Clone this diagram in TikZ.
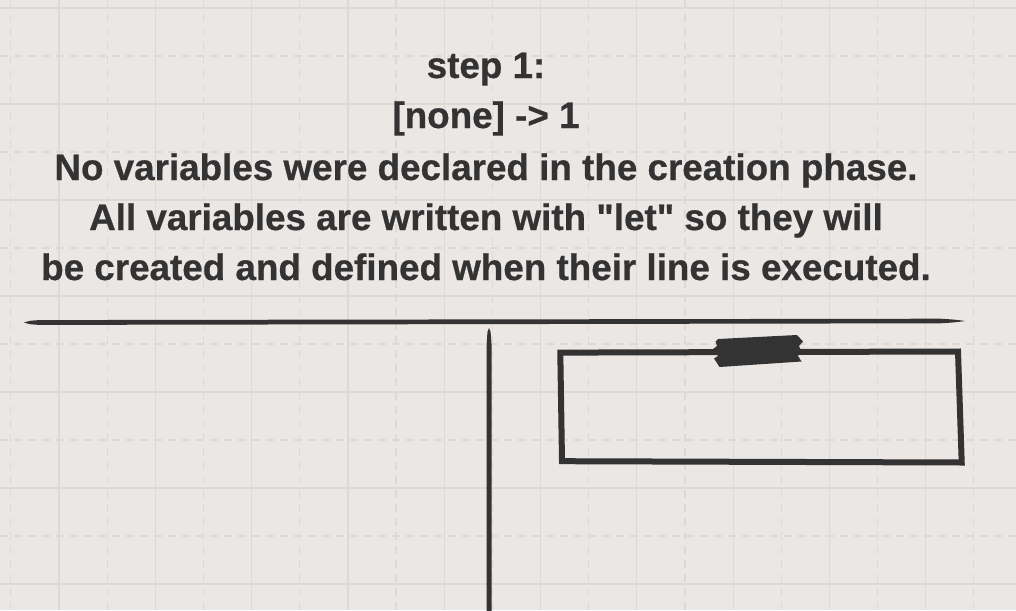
\documentclass[tikz,border=0pt]{standalone}
\usepackage{fontspec}
\newfontfamily\capfont{Liberation Sans}[BoldFeatures={FakeBold=0.6}]
\definecolor{paper}{RGB}{234,231,228}
\definecolor{gridc}{RGB}{220,217,214}
\definecolor{ink}{RGB}{51,51,51}
\tikzset{
  gridsolid/.style={draw=gridc, line width=1.2pt},
  griddash/.style={draw=gridc, line width=1.2pt, dash pattern=on 8pt off 6pt},
  caption/.style={anchor=base, inner sep=0pt, text=ink, font=\capfont\fontsize{36.8}{42}\selectfont\bfseries},
  brush/.style={fill=ink},
  boxline/.style={draw=ink, line width=6pt, line join=miter}
}
\begin{document}
\begin{tikzpicture}[x=1pt,y=-1pt]
\fill[paper] (0,0) rectangle (1016,610);
\useasboundingbox (0,0) rectangle (1016,610);
% grid
\foreach \i in {0,...,9} \draw[gridsolid] ({59+96.3*\i},0) -- ({59+96.3*\i},610);
\foreach \i in {0,...,10} \draw[griddash] ({10.85+96.3*\i},0) -- ({10.85+96.3*\i},610);
\foreach \k in {0,...,6} \draw[gridsolid] (0,{8+96*\k}) -- (1016,{8+96*\k});
\foreach \k in {0,...,5} \draw[griddash] (0,{56+96*\k}) -- (1016,{56+96*\k});
% text
\node[caption] (l1) at (486,78) {step 1:};
\node[caption] (l2) at (486,128) {[none] -> 1};
\node[caption] (l3) at (486,180) {No variables were declared in the creation phase.};
\node[caption] (l4) at (486,230) {All variables are written with "let" so they will};
\node[caption] (l5) at (486,280) {be created and defined when their line is executed.};
% horizontal brush line
\fill[brush] (24,322.5) .. controls (30,320.6) .. (40,320.1) -- (940,318.7)
  .. controls (955,319.6) .. (965,321) .. controls (955,322.4) .. (940,323.3)
  -- (40,324.9) .. controls (30,324.4) .. cycle;
% vertical brush line
\fill[brush] (489,328) .. controls (490.5,330) .. (491.6,345) -- (491.6,612)
  -- (486.6,612) -- (486.6,345) .. controls (487.5,330) .. cycle;
% box
\coordinate (tl) at (560.3,352.6);
\coordinate (tr) at (958,351.5);
\coordinate (br) at (961.7,462.5);
\coordinate (bl) at (562,461.2);
\draw[boxline] (tl) -- (tr) -- (br) -- (bl) -- cycle;
% tape
\fill[brush] (718,339) -- (797,335) -- (803,341.5) -- (799,346) -- (801,351)
  -- (798,356) -- (801.5,361.5) -- (719.5,367) -- (714,358.5) -- (718,356)
  -- (713,349) -- (717,346) -- (715.5,341.5) -- cycle;
\end{tikzpicture}
\end{document}
